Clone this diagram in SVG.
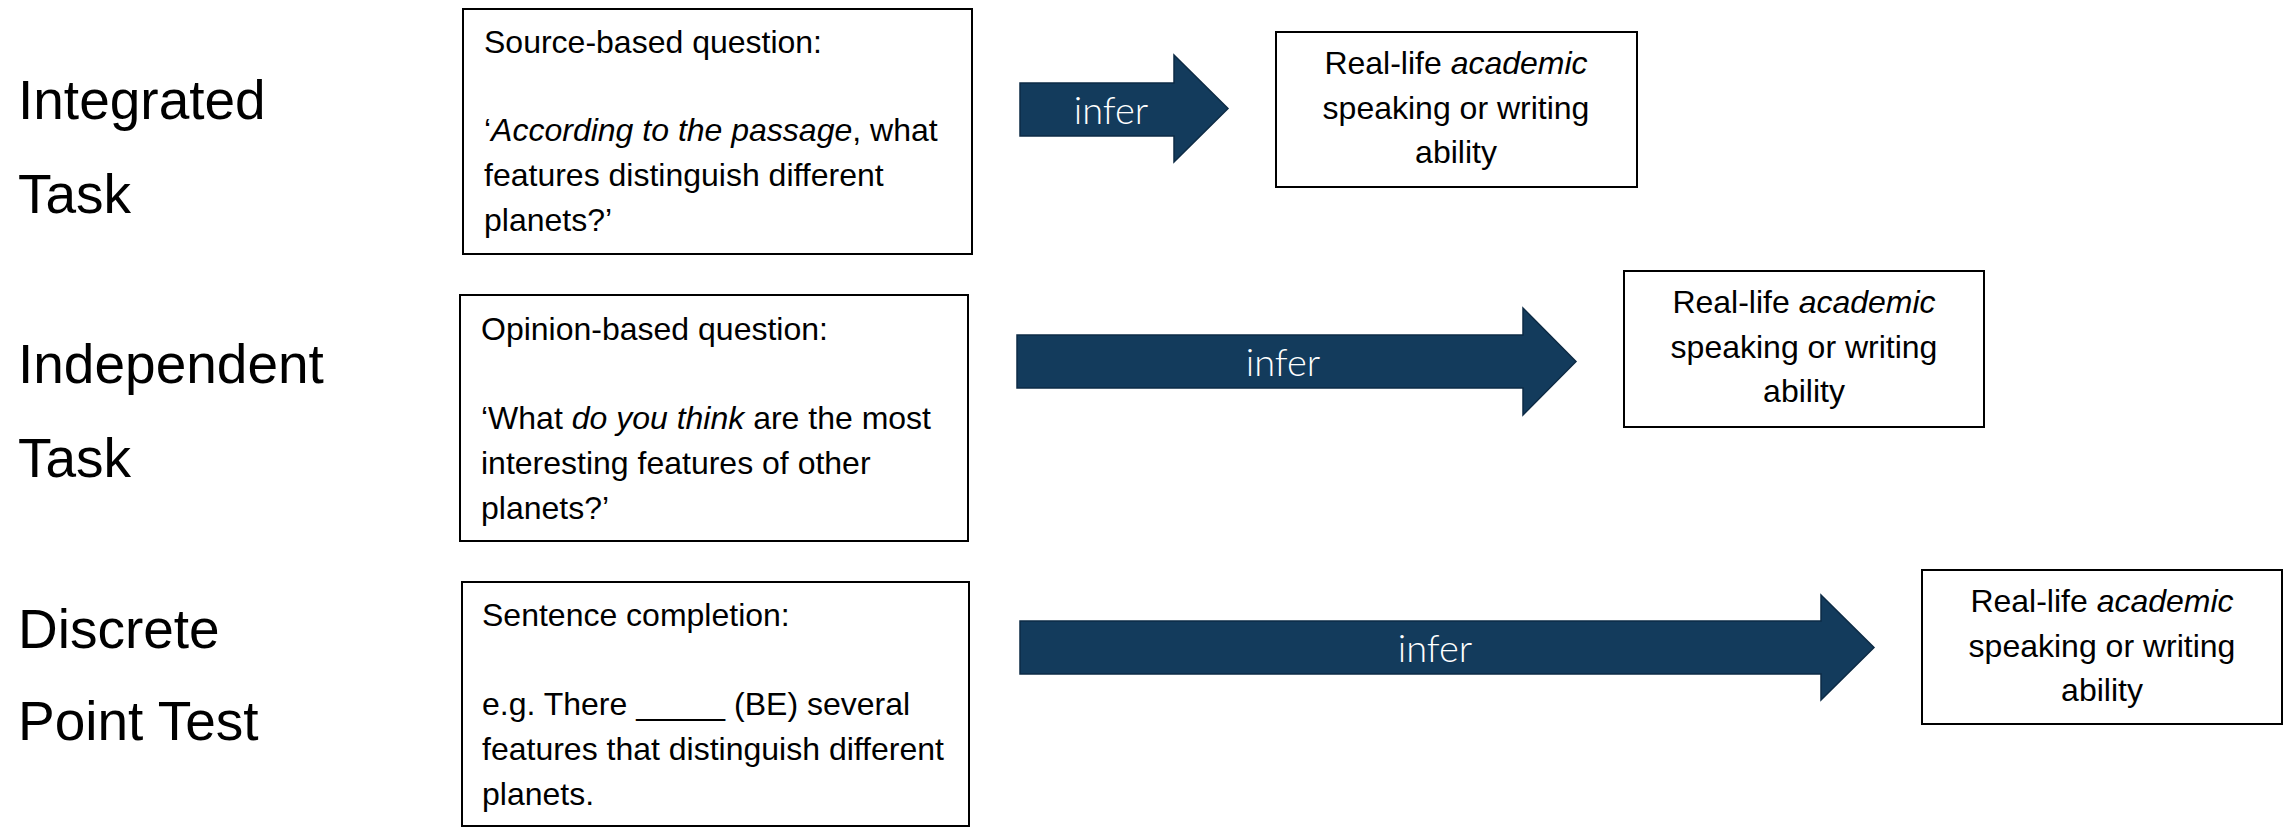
<svg xmlns="http://www.w3.org/2000/svg" width="2292" height="829" viewBox="0 0 2292 829">
<style>
.bg{fill:#ffffff}
.label{font-family:"Liberation Sans",Arial,sans-serif;font-size:55px;fill:#000}
.box{fill:#ffffff;stroke:#000;stroke-width:2}
.t{font-family:"Liberation Sans",Arial,sans-serif;font-size:32px;fill:#000}
.c{text-anchor:middle}
.i{font-style:italic}
.arrow{fill:#133b5c;stroke:#0d2b45;stroke-width:1.5}
.infer{font-family:Lato,"Liberation Sans",Arial,sans-serif;font-weight:300;font-size:38px;fill:#ffffff;text-anchor:middle}
</style>
<rect class="bg" x="0" y="0" width="2292" height="829"/>

<g id="label-integrated">
<text class="label" x="18" y="119">Integrated</text>
<text class="label" x="18" y="213">Task</text>
</g>
<g id="label-independent">
<text class="label" x="18" y="383">Independent</text>
<text class="label" x="18" y="477">Task</text>
</g>
<g id="label-discrete">
<text class="label" x="18" y="648">Discrete</text>
<text class="label" x="18" y="740">Point Test</text>
</g>

<g id="q-source">
<rect class="box" x="463" y="9" width="509" height="245"/>
<text class="t" x="484" y="53">Source-based question:</text>
<text class="t" x="484" y="141">‘<tspan class="i">According to the passage</tspan>, what</text>
<text class="t" x="484" y="186">features distinguish different</text>
<text class="t" x="484" y="231">planets?’</text>
</g>
<g id="q-opinion">
<rect class="box" x="460" y="295" width="508" height="246"/>
<text class="t" x="481" y="340">Opinion-based question:</text>
<text class="t" x="481" y="429">‘What <tspan class="i">do you think</tspan> are the most</text>
<text class="t" x="481" y="474">interesting features of other</text>
<text class="t" x="481" y="519">planets?’</text>
</g>
<g id="q-sentence">
<rect class="box" x="462" y="582" width="507" height="244"/>
<text class="t" x="482" y="626">Sentence completion:</text>
<text class="t" x="482" y="715">e.g. There _____ (BE) several</text>
<text class="t" x="482" y="760">features that distinguish different</text>
<text class="t" x="482" y="805">planets.</text>
</g>

<g id="ability-1">
<rect class="box" x="1276" y="32" width="361" height="155"/>
<text class="t c" x="1456" y="74">Real-life <tspan class="i">academic</tspan></text>
<text class="t c" x="1456" y="119">speaking or writing</text>
<text class="t c" x="1456" y="163">ability</text>
</g>
<g id="ability-2">
<rect class="box" x="1624" y="271" width="360" height="156"/>
<text class="t c" x="1804" y="313">Real-life <tspan class="i">academic</tspan></text>
<text class="t c" x="1804" y="358">speaking or writing</text>
<text class="t c" x="1804" y="402">ability</text>
</g>
<g id="ability-3">
<rect class="box" x="1922" y="570" width="360" height="154"/>
<text class="t c" x="2102" y="612">Real-life <tspan class="i">academic</tspan></text>
<text class="t c" x="2102" y="657">speaking or writing</text>
<text class="t c" x="2102" y="701">ability</text>
</g>

<g id="connectors">
<g id="arrow-1">
<polygon class="arrow" points="1020,83 1174,83 1174,55 1228,108.5 1174,162 1174,136 1020,136"/>
<text class="infer" x="1111" y="124">infer</text>
</g>
<g id="arrow-2">
<polygon class="arrow" points="1017,335 1523,335 1523,308 1576,361.5 1523,415 1523,388 1017,388"/>
<text class="infer" x="1283" y="376">infer</text>
</g>
<g id="arrow-3">
<polygon class="arrow" points="1020,621 1821,621 1821,595 1874,647.5 1821,700 1821,674 1020,674"/>
<text class="infer" x="1435" y="662">infer</text>
</g>
</g>
</svg>
